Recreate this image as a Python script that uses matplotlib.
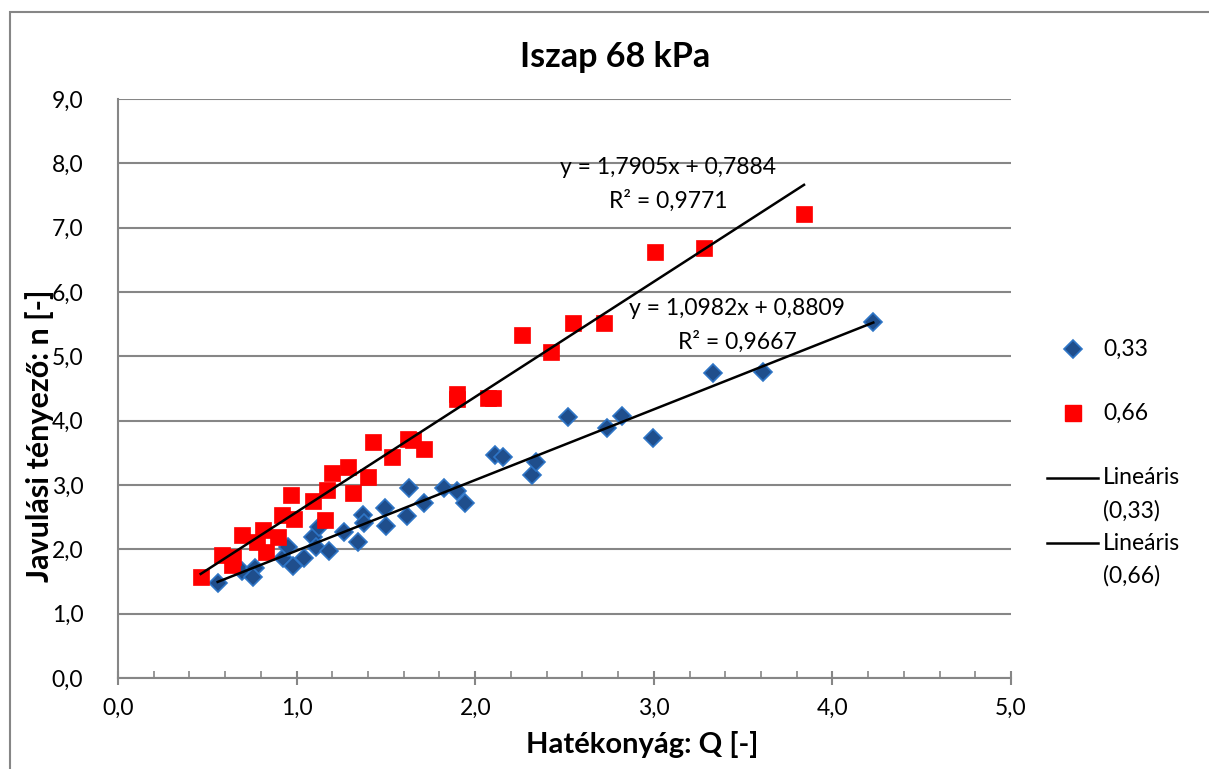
import matplotlib
matplotlib.use("Agg")
import matplotlib.pyplot as plt
import numpy as np
from matplotlib.lines import Line2D
from matplotlib.patches import Rectangle
from matplotlib.ticker import FuncFormatter, MultipleLocator

plt.rcParams['font.family'] = ['Lato', 'DejaVu Sans']

# data
blue_x = [0.558, 0.693, 0.767, 0.758, 0.922, 0.954, 0.982, 1.041, 1.090, 1.109, 1.127, 1.181,
          1.267, 1.346, 1.370, 1.377, 1.495, 1.501, 1.616, 1.631, 1.715, 1.827, 1.896, 1.943,
          2.111, 2.157, 2.316, 2.339, 2.521, 2.736, 2.824, 2.997, 3.333, 3.613, 4.229]
blue_y = [1.481, 1.668, 1.705, 1.575, 1.861, 2.041, 1.746, 1.861, 2.187, 2.041, 2.352, 1.979,
          2.265, 2.109, 2.534, 2.414, 2.637, 2.368, 2.518, 2.949, 2.725, 2.949, 2.912, 2.716,
          3.467, 3.431, 3.156, 3.363, 4.053, 3.881, 4.078, 3.726, 4.746, 4.762, 5.539]

red_x = [0.463, 0.581, 0.646, 0.637, 0.693, 0.777, 0.814, 0.829, 0.898, 0.917, 0.967, 0.985,
         1.090, 1.169, 1.197, 1.286, 1.318, 1.159, 1.398, 1.426, 1.532, 1.625, 1.650, 1.713,
         1.896, 1.900, 2.073, 2.100, 2.260, 2.423, 2.549, 2.721, 3.007, 3.281, 3.841]
red_y = [1.575, 1.912, 1.886, 1.757, 2.223, 2.119, 2.301, 1.963, 2.197, 2.534, 2.845, 2.470,
         2.756, 2.922, 3.191, 3.275, 2.871, 2.456, 3.129, 3.673, 3.431, 3.711, 3.700, 3.555,
         4.420, 4.330, 4.348, 4.360, 5.332, 5.073, 5.514, 5.523, 6.627, 6.679, 7.213]

# trendline coefficients as printed on the chart
blue_fit = (1.0982, 0.8809, 0.9667)
red_fit = (1.7905, 0.7884, 0.9771)

series_names = ['0,33', '0,66']
trend_names = ['Lineáris', 'Lineáris']

def comma(v, pos=None):
    return f"{v:.1f}".replace('.', ',')

def eq_text(fit):
    a, b, r2 = fit
    return (f"y = {a:.4f}x + {b:.4f}".replace('.', ','),
            f"R² = {r2:.4f}".replace('.', ','))

FS = 16.5
W, H = 1209, 769
fig = plt.figure(figsize=(W / 100, H / 100), dpi=100)
ax = fig.add_axes([118 / W, 1 - 678 / H, (1011 - 118) / W, (678 - 99) / H])

grid_c = '#868686'
blue_face, blue_edge = '#1F4E8C', '#2E75C6'
red_c = '#FF0000'

ax.plot(blue_x, blue_y, 'D', ms=9.5, mfc=blue_face, mec=blue_edge, mew=1.2, zorder=3)
ax.plot(red_x, red_y, 's', ms=11, mfc=red_c, mec=red_c, mew=0.5, zorder=4)

for xs, fit in [(blue_x, blue_fit), (red_x, red_fit)]:
    xx = np.array([min(xs), max(xs)])
    ax.plot(xx, fit[0] * xx + fit[1], color='black', lw=1.8, zorder=5)

ax.set_xlim(0, 5)
ax.set_ylim(0, 9)
ax.xaxis.set_major_locator(MultipleLocator(1))
ax.xaxis.set_minor_locator(MultipleLocator(0.2))
ax.yaxis.set_major_locator(MultipleLocator(1))
ax.xaxis.set_major_formatter(FuncFormatter(comma))
ax.yaxis.set_major_formatter(FuncFormatter(comma))
ax.grid(axis='y', color=grid_c, lw=1.5)
ax.set_axisbelow(True)
for s in ['top', 'right']:
    ax.spines[s].set_visible(False)
for s in ['left', 'bottom']:
    ax.spines[s].set_color(grid_c)
    ax.spines[s].set_linewidth(1.5)
ax.tick_params(axis='x', which='major', direction='inout', length=10, width=1.5,
               color=grid_c, labelsize=FS, pad=9)
ax.tick_params(axis='x', which='minor', direction='in', length=5, width=1.2, color=grid_c)
ax.tick_params(axis='y', length=0, labelsize=FS, pad=25)

# axis titles placed where they sit in the original
fig.text(642 / W, 1 - 745 / H, 'Hatékonyág: Q [-]', fontsize=21, fontweight='bold',
         ha='center', va='center')
fig.text(40 / W, 1 - 436 / H, 'Javulási tényező: n [-]', fontsize=22, fontweight='bold',
         ha='center', va='center', rotation=90)
fig.text(615 / W, 1 - 57 / H, 'Iszap 68 kPa', fontsize=24.5, fontweight='bold',
         ha='center', va='center')

# trendline equations
for fit, cx, cy in [(red_fit, 668, 168), (blue_fit, 737, 309)]:
    l1, l2 = eq_text(fit)
    fig.text(cx / W, 1 - cy / H, l1, fontsize=FS, ha='center', va='center')
    fig.text(cx / W, 1 - (cy + 33) / H, l2, fontsize=FS, ha='center', va='center')

# legend drawn by hand
fig.add_artist(Line2D([1073 / W], [1 - 349 / H], marker='D', ms=9, mfc=blue_face,
                      mec=blue_edge, mew=1.2, transform=fig.transFigure))
fig.add_artist(Line2D([1073 / W], [1 - 413 / H], marker='s', ms=11, mfc=red_c,
                      mec=red_c, transform=fig.transFigure))
fig.text(1103 / W, 1 - 349 / H, series_names[0], fontsize=FS, va='center')
fig.text(1103 / W, 1 - 413 / H, series_names[1], fontsize=FS, va='center')
for y0, name, sname in [(478, trend_names[0], series_names[0]), (543, trend_names[1], series_names[1])]:
    fig.add_artist(Line2D([1047 / W, 1098 / W], [1 - y0 / H] * 2, color='black', lw=1.8,
                          transform=fig.transFigure))
    fig.text(1103 / W, 1 - y0 / H, name, fontsize=FS, va='center')
    fig.text(1103 / W, 1 - (y0 + 33) / H, f"({sname})", fontsize=FS, va='center')

# chart area border
fig.add_artist(Rectangle((10 / W, -0.05), 1.2, 1 - 12 / H + 0.05, transform=fig.transFigure,
                         fill=False, edgecolor=grid_c, lw=1.5))

fig.savefig('out.png', dpi=100)
